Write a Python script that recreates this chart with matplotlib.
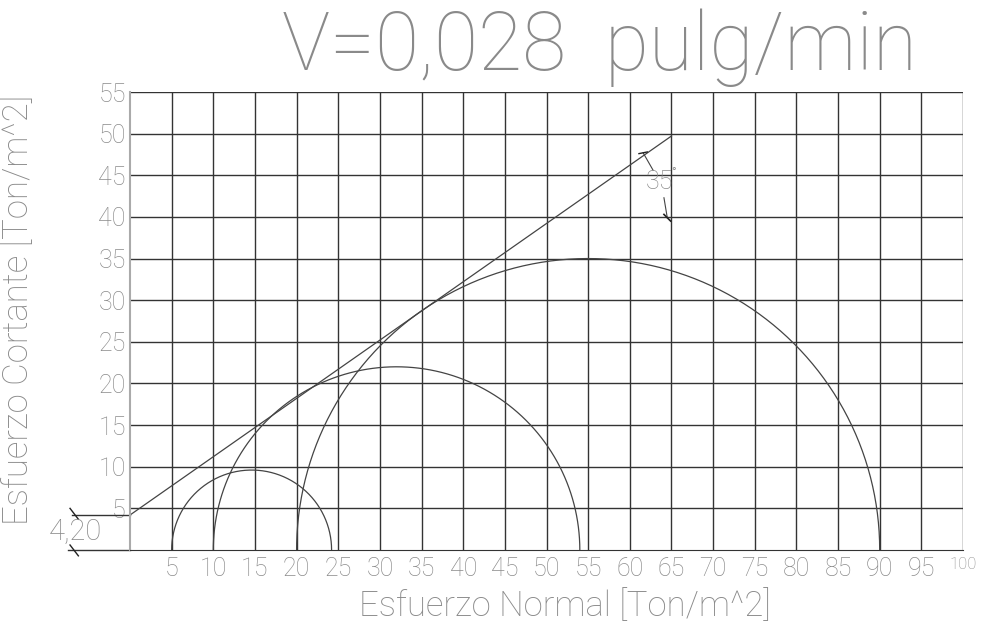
import matplotlib
matplotlib.use("Agg")
import matplotlib.pyplot as plt
import numpy as np

# Mohr circles (sigma3, sigma1) in Ton/m^2
sigma3 = [5, 10, 20]
sigma1 = [24.2, 54, 90]
cohesion = 4.20
phi = 35
line_end_x = 65
x_ticks = list(range(5, 101, 5))
y_ticks = list(range(5, 56, 5))

title = "V=0,028  pulg/min"
xlabel = "Esfuerzo Normal [Ton/m^2]"
ylabel = "Esfuerzo Cortante [Ton/m^2]"

gray = "#8a8a8a"
dark = "#333333"
plt.rcParams['font.family'] = ['Roboto', 'DejaVu Sans']

fig = plt.figure(figsize=(9.83, 6.31), dpi=100)
ax = fig.add_axes([130/983, 1 - 550/631, 833/983, 458/631])
ax.set_xlim(0, 100)
ax.set_ylim(0, 55)

# grid
for x in x_ticks:
    ax.axvline(x, color=dark, lw=1.0)
for y in y_ticks:
    ax.axhline(y, color=dark, lw=1.0)
for s in ["top", "right"]:
    ax.spines[s].set_visible(False)
ax.spines["bottom"].set_color(dark)
ax.spines["left"].set_color("#aaaaaa")
ax.spines["left"].set_linewidth(1.5)

# circles
t = np.linspace(0, np.pi, 400)
for s3, s1 in zip(sigma3, sigma1):
    c = (s1 + s3) / 2
    r = (s1 - s3) / 2
    ax.plot(c + r * np.cos(t), r * np.sin(t), color="#444444", lw=0.9)

# envelope
xe = np.array([0, line_end_x])
ax.plot(xe, cohesion + np.tan(np.radians(phi)) * xe, color="#444444", lw=0.9, clip_on=False)

# angle dimension
ax.plot([61.6, 62.8], [47.7, 45.6], color="#444444", lw=0.8)
ax.plot([64.1, 64.5], [42.3, 39.9], color="#444444", lw=0.8)
ax.plot([61.1, 62.1], [47.6, 47.8], color="#222222", lw=1.0)
ax.plot([64.1, 64.9], [40.3, 39.5], color="#222222", lw=1.2)
ax.text(63.5, 44.2, "35", color=gray, fontsize=18, fontweight="light", ha="center", va="center")
ax.text(65.3, 45.3, "°", color=gray, fontsize=9, ha="center", va="center")

# cohesion dimension
ax.plot([-7.0, 0], [cohesion, cohesion], color=dark, lw=1.0, clip_on=False)
ax.plot([-7.4, 0], [0, 0], color=dark, lw=1.0, clip_on=False)
ax.plot([-7.2, -6.2], [cohesion + 0.8, cohesion - 0.5], color="#222222", lw=1.0, clip_on=False)
ax.plot([-7.2, -6.2], [0.6, -0.7], color="#222222", lw=1.0, clip_on=False)
ax.text(-6.6, 2.2, "4,20", color=gray, fontsize=21, fontweight="light", ha="center", va="center")

# ticks
ax.set_xticks(x_ticks)
ax.set_xticklabels([str(v) for v in x_ticks], color=gray, fontsize=18, fontweight="light")
ax.get_xticklabels()[-1].set_fontsize(12)
ax.set_yticks(y_ticks)
ax.set_yticklabels([str(v) for v in y_ticks], color=gray, fontsize=18, fontweight="light")
ax.tick_params(length=0, pad=5)
ax.tick_params(axis="y", pad=3)

fig.text(600/983, 1 - 48/631, title, color=gray, fontsize=58, fontweight="light", ha="center", va="center")
fig.text(565/983, 1 - 606/631, xlabel, color=gray, fontsize=25, fontweight="light", ha="center", va="center")
fig.text(18/983, 1 - 310/631, ylabel, color=gray, fontsize=25, fontweight="light", ha="center", va="center", rotation=90)

fig.savefig("out.png", dpi=100)
